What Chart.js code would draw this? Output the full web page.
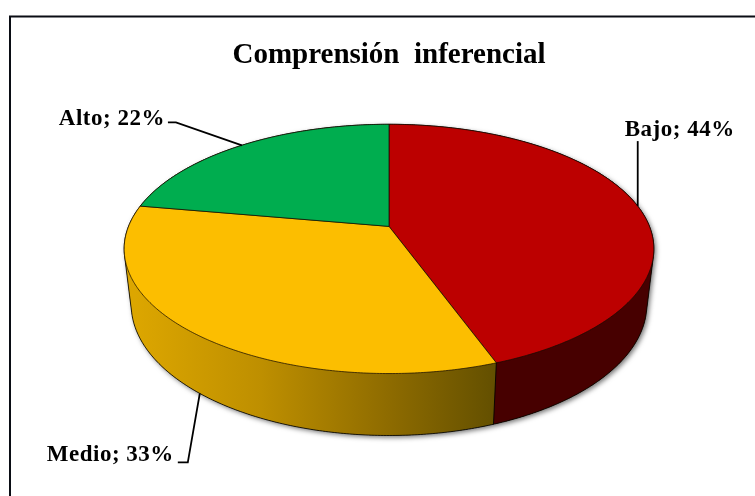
<!DOCTYPE html>
<html><head><meta charset="utf-8">
<style>html,body{margin:0;padding:0;background:#fff;overflow:hidden}#w{position:relative;width:755px;height:496px}</style>
<script src="https://cdn.jsdelivr.net/npm/chart.js@4"></script>
</head><body><div id="w"><canvas id="c" width="755" height="496"></canvas></div>
<script>
const titleText = 'Comprensión  inferencial';
const categories = ['Bajo', 'Medio', 'Alto'];
const values = [44, 33, 22];
const topColors = ['#BC0000', '#FCBE00', '#00AD4F'];
const redWall = '#470000';
const orangeWallStops = [[0, '#DCA600'], [0.35, '#BE8F00'], [0.7, '#8F6C00'], [1, '#645000']];

// camera used to tilt the flat pie (ratios of the pie's outer radius)
const tilt = { persp: 0.1807, sx: 1.707, sy: 0.79, floorX: 0.9735, floorY: 1.052, depth: 54.3 };
// label placement: text anchor and leader elbow relative to the projected slice midpoint
const callouts = [
  { level: 0, text: [-13, -70], align: 'left',  elbow: [[0, -65]] },
  { level: 1, text: [-26, 68],  align: 'right', elbow: [[-12, 69], [-22, 69]] },
  { level: 0, text: [-77, -20.5], align: 'right', elbow: [[-66, -23], [-74, -23]] }
];

function project(arc, a, level) {
  const u = Math.cos(a), v = Math.sin(a), w = 1 - tilt.persp * v, R = arc.outerRadius;
  let x = tilt.sx * R * u / w, y = tilt.sy * R * v / w;
  if (level) { x *= tilt.floorX; y = y * tilt.floorY + tilt.depth; }
  return [arc.x + x, arc.y + y];
}
function arcPoints(arc, a0, a1, level) {
  const n = Math.max(2, Math.ceil(Math.abs(a1 - a0) / 0.01)), pts = [];
  for (let i = 0; i <= n; i++) pts.push(project(arc, a0 + (a1 - a0) * i / n, level));
  return pts;
}
function trace(ctx, pts, join) {
  pts.forEach((p, i) => (i || join) ? ctx.lineTo(p[0], p[1]) : ctx.moveTo(p[0], p[1]));
}
function hull(points) {
  const s = points.slice().sort((a, b) => a[0] - b[0] || a[1] - b[1]);
  const cross = (o, a, b) => (a[0] - o[0]) * (b[1] - o[1]) - (a[1] - o[1]) * (b[0] - o[0]);
  const side = list => {
    const h = [];
    list.forEach(p => {
      while (h.length > 1 && cross(h[h.length - 2], h[h.length - 1], p) <= 0) h.pop();
      h.push(p);
    });
    h.pop();
    return h;
  };
  return side(s).concat(side(s.slice().reverse()));
}

const pie3d = {
  id: 'pie3d',
  beforeDraw(chart) {
    const ctx = chart.ctx;
    ctx.save();
    ctx.strokeStyle = '#0a0d14'; ctx.lineWidth = 2;
    ctx.beginPath(); ctx.moveTo(10, chart.height); ctx.lineTo(10, 16.5); ctx.lineTo(chart.width, 16.5); ctx.stroke();
    ctx.restore();
  },
  beforeDatasetsDraw(chart) {
    const ctx = chart.ctx, arcs = chart.getDatasetMeta(0).data;
    ctx.save();
    // soft shadow beneath the whole disc outline
    const outline = hull(arcPoints(arcs[0], 0, Math.PI * 2, 1).concat(arcPoints(arcs[0], 0, Math.PI * 2, 0)));
    ctx.save();
    ctx.shadowColor = 'rgba(0,0,0,0.55)'; ctx.shadowBlur = 5; ctx.shadowOffsetX = 2; ctx.shadowOffsetY = 2;
    ctx.fillStyle = '#333'; ctx.beginPath(); trace(ctx, outline); ctx.closePath(); ctx.fill();
    ctx.restore();
    // wall: the slice boundary at the front splits the visible band in two
    const seam = arcs[0].endAngle, seamTop = project(arcs[0], seam, 0), seamLow = project(arcs[0], seam, 1);
    ctx.save();
    ctx.beginPath(); trace(ctx, outline); ctx.closePath(); ctx.clip();
    const grad = ctx.createLinearGradient(project(arcs[1], Math.PI, 1)[0], 0, seamLow[0], 0);
    orangeWallStops.forEach(s => grad.addColorStop(s[0], s[1]));
    ctx.fillStyle = grad;
    ctx.fillRect(0, 0, chart.width, chart.height);
    ctx.fillStyle = redWall;
    ctx.beginPath();
    trace(ctx, [[seamTop[0], 0], seamTop, seamLow, [seamLow[0], chart.height], [chart.width, chart.height], [chart.width, 0]]);
    ctx.closePath(); ctx.fill();
    ctx.restore();
    ctx.strokeStyle = 'rgba(0,0,0,0.85)'; ctx.lineWidth = 1;
    ctx.beginPath(); trace(ctx, [seamTop, seamLow]); ctx.stroke();
    ctx.strokeStyle = 'rgba(0,0,0,0.8)';
    ctx.beginPath(); trace(ctx, outline); ctx.closePath(); ctx.stroke();
    // top face
    arcs.forEach((arc, i) => {
      const rim = arcPoints(arc, arc.startAngle, arc.endAngle, 0);
      ctx.fillStyle = topColors[i];
      ctx.strokeStyle = 'rgba(20,10,0,0.72)'; ctx.lineWidth = 1;
      ctx.beginPath(); ctx.moveTo(arc.x, arc.y); trace(ctx, rim, true); ctx.closePath();
      ctx.fill(); ctx.stroke();
    });
    // callouts
    ctx.font = 'bold 23px "Liberation Serif"';
    ctx.letterSpacing = '0.5px';
    ctx.textBaseline = 'alphabetic'; ctx.fillStyle = '#000';
    arcs.forEach((arc, i) => {
      const co = callouts[i], mid = (arc.startAngle + arc.endAngle) / 2, p = project(arc, mid, co.level);
      ctx.strokeStyle = '#000'; ctx.lineWidth = 1.8;
      ctx.beginPath(); ctx.moveTo(p[0], p[1]);
      co.elbow.forEach(e => ctx.lineTo(p[0] + e[0], p[1] + e[1])); ctx.stroke();
      ctx.textAlign = co.align;
      ctx.fillText(categories[i] + '; ' + values[i] + '%', p[0] + co.text[0], p[1] + co.text[1]);
    });
    ctx.restore();
    return false;
  }
};

new Chart(document.getElementById('c'), {
  type: 'pie',
  data: { labels: categories, datasets: [{ data: values, backgroundColor: topColors, borderWidth: 0 }] },
  plugins: [pie3d],
  options: {
    responsive: false, animation: false,
    layout: { padding: { left: 23, right: 0, top: 0, bottom: 117 } },
    plugins: {
      legend: { display: false }, tooltip: { enabled: false },
      title: { display: true, text: titleText, color: '#000',
        font: { family: '"Liberation Serif"', size: 29, weight: 'bold', lineHeight: 1.2 },
        padding: { top: 38, bottom: 1 } }
    }
  }
});
</script></body></html>
